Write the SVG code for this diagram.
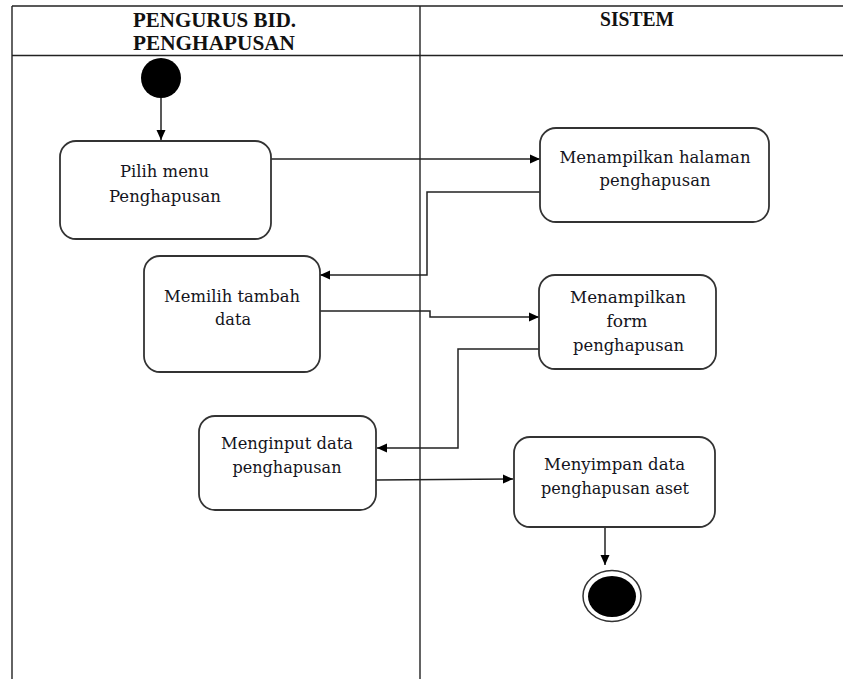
<svg xmlns="http://www.w3.org/2000/svg" width="843" height="679" viewBox="0 0 843 679">
  <style>
    .lane { fill: none; stroke: #222; stroke-width: 1.4; }
    .act { fill: #fff; stroke: #333; stroke-width: 1.8; }
    .lbl { font-family: "DejaVu Serif", "Liberation Serif", serif; font-size: 16px; fill: #141420; text-anchor: middle; }
    .hdr { font-family: "Liberation Serif", "DejaVu Serif", serif; font-size: 20px; font-weight: bold; fill: #111; text-anchor: middle; }
    .flow { fill: none; stroke: #222; stroke-width: 1.5; marker-end: url(#arrow); }
  </style>
  <defs>
    <marker id="arrow" viewBox="0 0 10 10" refX="10" refY="5" markerWidth="10" markerHeight="10" markerUnits="userSpaceOnUse" orient="auto">
      <path d="M0,0.5 L10,5 L0,9.5 Z" fill="#000"/>
    </marker>
  </defs>

  <rect width="843" height="679" fill="#fff"/>

  <!-- swimlane frame -->
  <g id="swimlanes">
    <line class="lane" x1="12" y1="6" x2="843" y2="6"/>
    <line class="lane" x1="12" y1="55.5" x2="843" y2="55.5"/>
    <line class="lane" x1="12" y1="6" x2="12" y2="679"/>
    <line class="lane" x1="420" y1="6" x2="420" y2="679"/>
    <text class="hdr" x="214.5" y="26.5" textLength="163" lengthAdjust="spacingAndGlyphs">PENGURUS BID.</text>
    <text class="hdr" x="214" y="49.5" textLength="162" lengthAdjust="spacingAndGlyphs">PENGHAPUSAN</text>
    <text class="hdr" x="637" y="26" textLength="74" lengthAdjust="spacingAndGlyphs">SISTEM</text>
  </g>

  <!-- connectors -->
  <g id="connectors">
    <path class="flow" d="M161,98 L161,140"/>
    <path class="flow" d="M271,159 L540,159"/>
    <path class="flow" d="M540,192 L427,192 L427,275 L320,275"/>
    <path class="flow" d="M320,311 L430,311 L430,317 L539,317"/>
    <path class="flow" d="M539,349 L458,349 L458,448 L377,448"/>
    <path class="flow" d="M376,480 L513,479"/>
    <path class="flow" d="M605,527 L605,565"/>
  </g>

  <g id="start">
    <circle cx="161" cy="78" r="20" fill="#000"/>
  </g>

  <g id="pilih-menu">
    <rect class="act" x="60" y="141" width="211" height="98" rx="16"/>
    <text class="lbl" x="164.5" y="177" textLength="89" lengthAdjust="spacingAndGlyphs">Pilih menu</text>
    <text class="lbl" x="165" y="201.5" textLength="112" lengthAdjust="spacingAndGlyphs">Penghapusan</text>
  </g>

  <g id="memilih-tambah">
    <rect class="act" x="144" y="256" width="176" height="116" rx="16"/>
    <text class="lbl" x="232" y="301.5" textLength="136" lengthAdjust="spacingAndGlyphs">Memilih tambah</text>
    <text class="lbl" x="233" y="325" textLength="36" lengthAdjust="spacingAndGlyphs">data</text>
  </g>

  <g id="menginput-data">
    <rect class="act" x="199" y="416" width="177" height="94" rx="16"/>
    <text class="lbl" x="287" y="449" textLength="132" lengthAdjust="spacingAndGlyphs">Menginput data</text>
    <text class="lbl" x="287" y="473" textLength="109" lengthAdjust="spacingAndGlyphs">penghapusan</text>
  </g>

  <g id="halaman-penghapusan">
    <rect class="act" x="540" y="128" width="229" height="94" rx="16"/>
    <text class="lbl" x="655" y="162.5" textLength="191" lengthAdjust="spacingAndGlyphs">Menampilkan halaman</text>
    <text class="lbl" x="655" y="186" textLength="111" lengthAdjust="spacingAndGlyphs">penghapusan</text>
  </g>

  <g id="form-penghapusan">
    <rect class="act" x="539" y="275" width="177" height="94" rx="16"/>
    <text class="lbl" x="628" y="303" textLength="116" lengthAdjust="spacingAndGlyphs">Menampilkan</text>
    <text class="lbl" x="627" y="327" textLength="41" lengthAdjust="spacingAndGlyphs">form</text>
    <text class="lbl" x="628.5" y="351" textLength="111" lengthAdjust="spacingAndGlyphs">penghapusan</text>
  </g>

  <g id="menyimpan-data">
    <rect class="act" x="514" y="437" width="201" height="90" rx="16"/>
    <text class="lbl" x="614.5" y="470" textLength="141" lengthAdjust="spacingAndGlyphs">Menyimpan data</text>
    <text class="lbl" x="615" y="494" textLength="148" lengthAdjust="spacingAndGlyphs">penghapusan aset</text>
  </g>

  <g id="end">
    <ellipse cx="612" cy="596" rx="29" ry="25.5" fill="#fff" stroke="#333" stroke-width="1.5"/>
    <ellipse cx="612" cy="596.5" rx="24" ry="20.5" fill="#000"/>
  </g>
</svg>
